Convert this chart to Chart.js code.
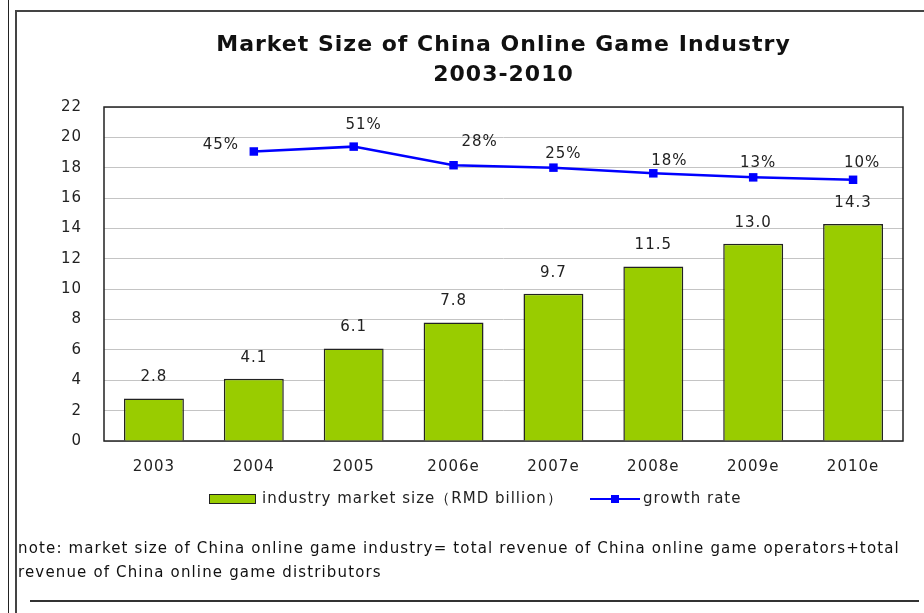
<!DOCTYPE html>
<html>
<head>
<meta charset="utf-8">
<script src="https://cdn.jsdelivr.net/npm/chart.js@4"></script>
<style>
  body { margin: 0; background: #fff; }
  #wrap { position: relative; width: 924px; height: 613px; overflow: hidden; }
  #myChart { position: absolute; left: 0; top: 0; }
  .ln { position: absolute; background: #222; }
  #note { position: absolute; left: 18px; top: 536px; font: 15px "DejaVu Sans", sans-serif; letter-spacing: 1.15px; line-height: 24px; color: #111; white-space: nowrap; }
</style>
</head>
<body>
<div id="wrap">
  <canvas id="myChart" width="924" height="613"></canvas>
  <div class="ln" style="left:8px;top:0;width:1px;height:613px"></div>
  <div class="ln" style="left:15px;top:10px;width:2px;height:603px;background:#444"></div>
  <div class="ln" style="left:15px;top:10px;width:909px;height:2px;background:#444"></div>
  <div class="ln" style="left:30px;top:600px;width:889px;height:2px;background:#333"></div>
  <div id="note">note: market size of China online game industry= total revenue of China online game operators+total<br>revenue of China online game distributors</div>
</div>
<script>
const years = ["2003", "2004", "2005", "2006e", "2007e", "2008e", "2009e", "2010e"];
const marketSize = [2.8, 4.1, 6.1, 7.8, 9.7, 11.5, 13.0, 14.3];
const growthRate = [null, 45, 51, 28, 25, 18, 13, 10];
const yTicks = [0, 2, 4, 6, 8, 10, 12, 14, 16, 18, 20, 22];
const titleLines = ["Market Size of China Online Game Industry", "2003-2010"];

const FONT = "'DejaVu Sans', sans-serif";
const GREEN = "#99CC00";
const BLUE = "#0000FF";

// the original text is rather wide, so a bit of tracking on the canvas
const tracking = {
  id: "tracking",
  beforeUpdate(chart) { chart.ctx.letterSpacing = "1px"; },
  beforeDraw(chart) { chart.ctx.letterSpacing = "1px"; }
};

// title centred over the plot area, not the whole canvas
const plotTitle = {
  id: "plotTitle",
  afterDraw(chart) {
    const ctx = chart.ctx;
    const a = chart.chartArea;
    const cx = (a.left + a.right) / 2;
    ctx.save();
    ctx.font = "bold 22px " + FONT;
    ctx.fillStyle = "#111";
    ctx.textAlign = "center";
    ctx.textBaseline = "middle";
    titleLines.forEach((t, i) => ctx.fillText(t, cx, 45 + i * 30));
    ctx.restore();
  }
};

// labels drawn above bars and next to the growth points
const valueLabels = {
  id: "valueLabels",
  afterDatasetsDraw(chart) {
    const ctx = chart.ctx;
    ctx.save();
    ctx.font = "15px " + FONT;
    ctx.fillStyle = "#222";
    ctx.textAlign = "center";
    ctx.textBaseline = "middle";
    chart.getDatasetMeta(0).data.forEach((bar, i) => {
      ctx.fillText(marketSize[i].toFixed(1), bar.x, bar.y - 21);
    });
    // growth label offsets (dx, dy) from each point
    const off = [null, [-33, -6], [10, -22], [26, -23], [10, -14], [16, -12], [5, -14], [9, -17]];
    chart.getDatasetMeta(1).data.forEach((pt, i) => {
      if (growthRate[i] == null) return;
      ctx.fillText(growthRate[i] + "%", pt.x + off[i][0], pt.y + off[i][1]);
    });
    ctx.restore();
  }
};

// dark frame round the plot area
const plotFrame = {
  id: "plotFrame",
  beforeDatasetsDraw(chart) {
    const a = chart.chartArea;
    const ctx = chart.ctx;
    ctx.save();
    ctx.strokeStyle = "#222";
    ctx.lineWidth = 1.5;
    ctx.strokeRect(a.left, a.top, a.right - a.left, a.bottom - a.top);
    ctx.restore();
  }
};

// legend under the axis
const bottomLegend = {
  id: "bottomLegend",
  afterDraw(chart) {
    const ctx = chart.ctx;
    const y = 499;
    ctx.save();
    ctx.font = "15px " + FONT;
    ctx.textBaseline = "middle";
    ctx.fillStyle = GREEN;
    ctx.fillRect(209, y - 4, 46, 8);
    ctx.strokeStyle = "#222";
    ctx.lineWidth = 1;
    ctx.strokeRect(209.5, y - 4.5, 46, 9);
    ctx.fillStyle = "#222";
    ctx.fillText(chart.data.datasets[0].label, 262, y);
    ctx.strokeStyle = BLUE;
    ctx.lineWidth = 2;
    ctx.beginPath();
    ctx.moveTo(590, y);
    ctx.lineTo(640, y);
    ctx.stroke();
    ctx.fillStyle = BLUE;
    ctx.fillRect(611, y - 4, 8, 8);
    ctx.fillStyle = "#222";
    ctx.fillText(chart.data.datasets[1].label, 643, y);
    ctx.restore();
  }
};

document.addEventListener("DOMContentLoaded", function () {
  const canvas = document.getElementById("myChart");
  const ctx = canvas.getContext("2d");
  new Chart(ctx, {
    data: {
      labels: years,
      datasets: [
        {
          type: "bar",
          label: "industry market size（RMD billion）",
          data: marketSize,
          backgroundColor: GREEN,
          borderColor: "#222",
          borderWidth: 1.5,
          barPercentage: 0.6,
          categoryPercentage: 1,
          order: 1
        },
        {
          type: "line",
          label: "growth rate",
          data: growthRate,
          yAxisID: "y2",
          borderColor: BLUE,
          borderWidth: 2.5,
          pointStyle: "rect",
          pointRadius: 6,
          pointBackgroundColor: BLUE,
          pointBorderWidth: 0,
          tension: 0,
          order: 0
        }
      ]
    },
    options: {
      responsive: false,
      animation: false,
      layout: { padding: { left: 20, right: 21, top: 107, bottom: 132 } },
      plugins: {
        legend: { display: false },
        tooltip: { enabled: false },
        title: { display: false }
      },
      scales: {
        x: {
          grid: { display: false, drawTicks: false },
          border: { display: false },
          ticks: { color: "#222", font: { family: FONT, size: 15 }, padding: 17 },
          afterFit(s) { s.height = 40; }
        },
        y: {
          min: 0,
          max: 22,
          afterBuildTicks(s) { s.ticks = yTicks.map(v => ({ value: v })); },
          grid: { color: "#c4c4c4", lineWidth: 1, drawTicks: false },
          border: { display: false },
          ticks: { color: "#222", font: { family: FONT, size: 15 }, padding: 22 },
          afterFit(s) { s.width = 84; }
        },
        y2: {
          display: false,
          min: -313,
          max: 100
        }
      }
    },
    plugins: [tracking, plotFrame, valueLabels, bottomLegend, plotTitle]
  });
});
</script>
</body>
</html>
